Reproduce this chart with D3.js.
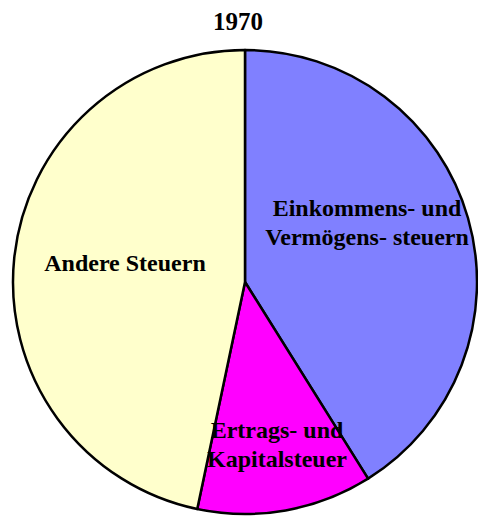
<!DOCTYPE html>
<html><head><meta charset="utf-8">
<script src="https://cdn.jsdelivr.net/npm/d3@7"></script>
<style>body{margin:0;background:#fff}svg{display:block}</style>
</head><body>
<svg id="c" width="478" height="516"></svg>
<script>
const title = "1970";
const categories = ["Einkommens- und Vermögens- steuern", "Ertrags- und Kapitalsteuer", "Andere Steuern"];
const values = [41.1, 12.2, 46.7];
const colors = ["#8080FF", "#FF00FF", "#FFFFCC"];
const labelLines = [["Einkommens- und", "Vermögens- steuern"], ["Ertrags- und", "Kapitalsteuer"], ["Andere Steuern"]];

const svg = d3.select("#c");
const cx = 245, cy = 282, r = 232;
const font = "'Liberation Serif', 'Times New Roman', serif";

svg.append("text").attr("x", 238).attr("y", 30).attr("text-anchor", "middle")
  .attr("font-family", font).attr("font-weight", "bold").attr("font-size", 25).text(title);

const pie = d3.pie().sort(null).value(d => d)(values);
const arc = d3.arc().innerRadius(0).outerRadius(r);
const g = svg.append("g").attr("transform", `translate(${cx},${cy})`);
g.selectAll("path").data(pie).join("path")
  .attr("d", arc).attr("fill", (d, i) => colors[i])
  .attr("stroke", "#000").attr("stroke-width", 2.5).attr("stroke-linejoin", "round");

const labelPos = [[367, 216], [277, 438], [125, 271]];
labelLines.forEach((lines, i) => {
  const t = svg.append("text").attr("text-anchor", "middle")
    .attr("font-family", font).attr("font-weight", "bold").attr("font-size", 24);
  lines.forEach((l, j) => {
    t.append("tspan").attr("x", labelPos[i][0]).attr("y", labelPos[i][1] + j * 29).text(l);
  });
});
</script>
</body></html>
